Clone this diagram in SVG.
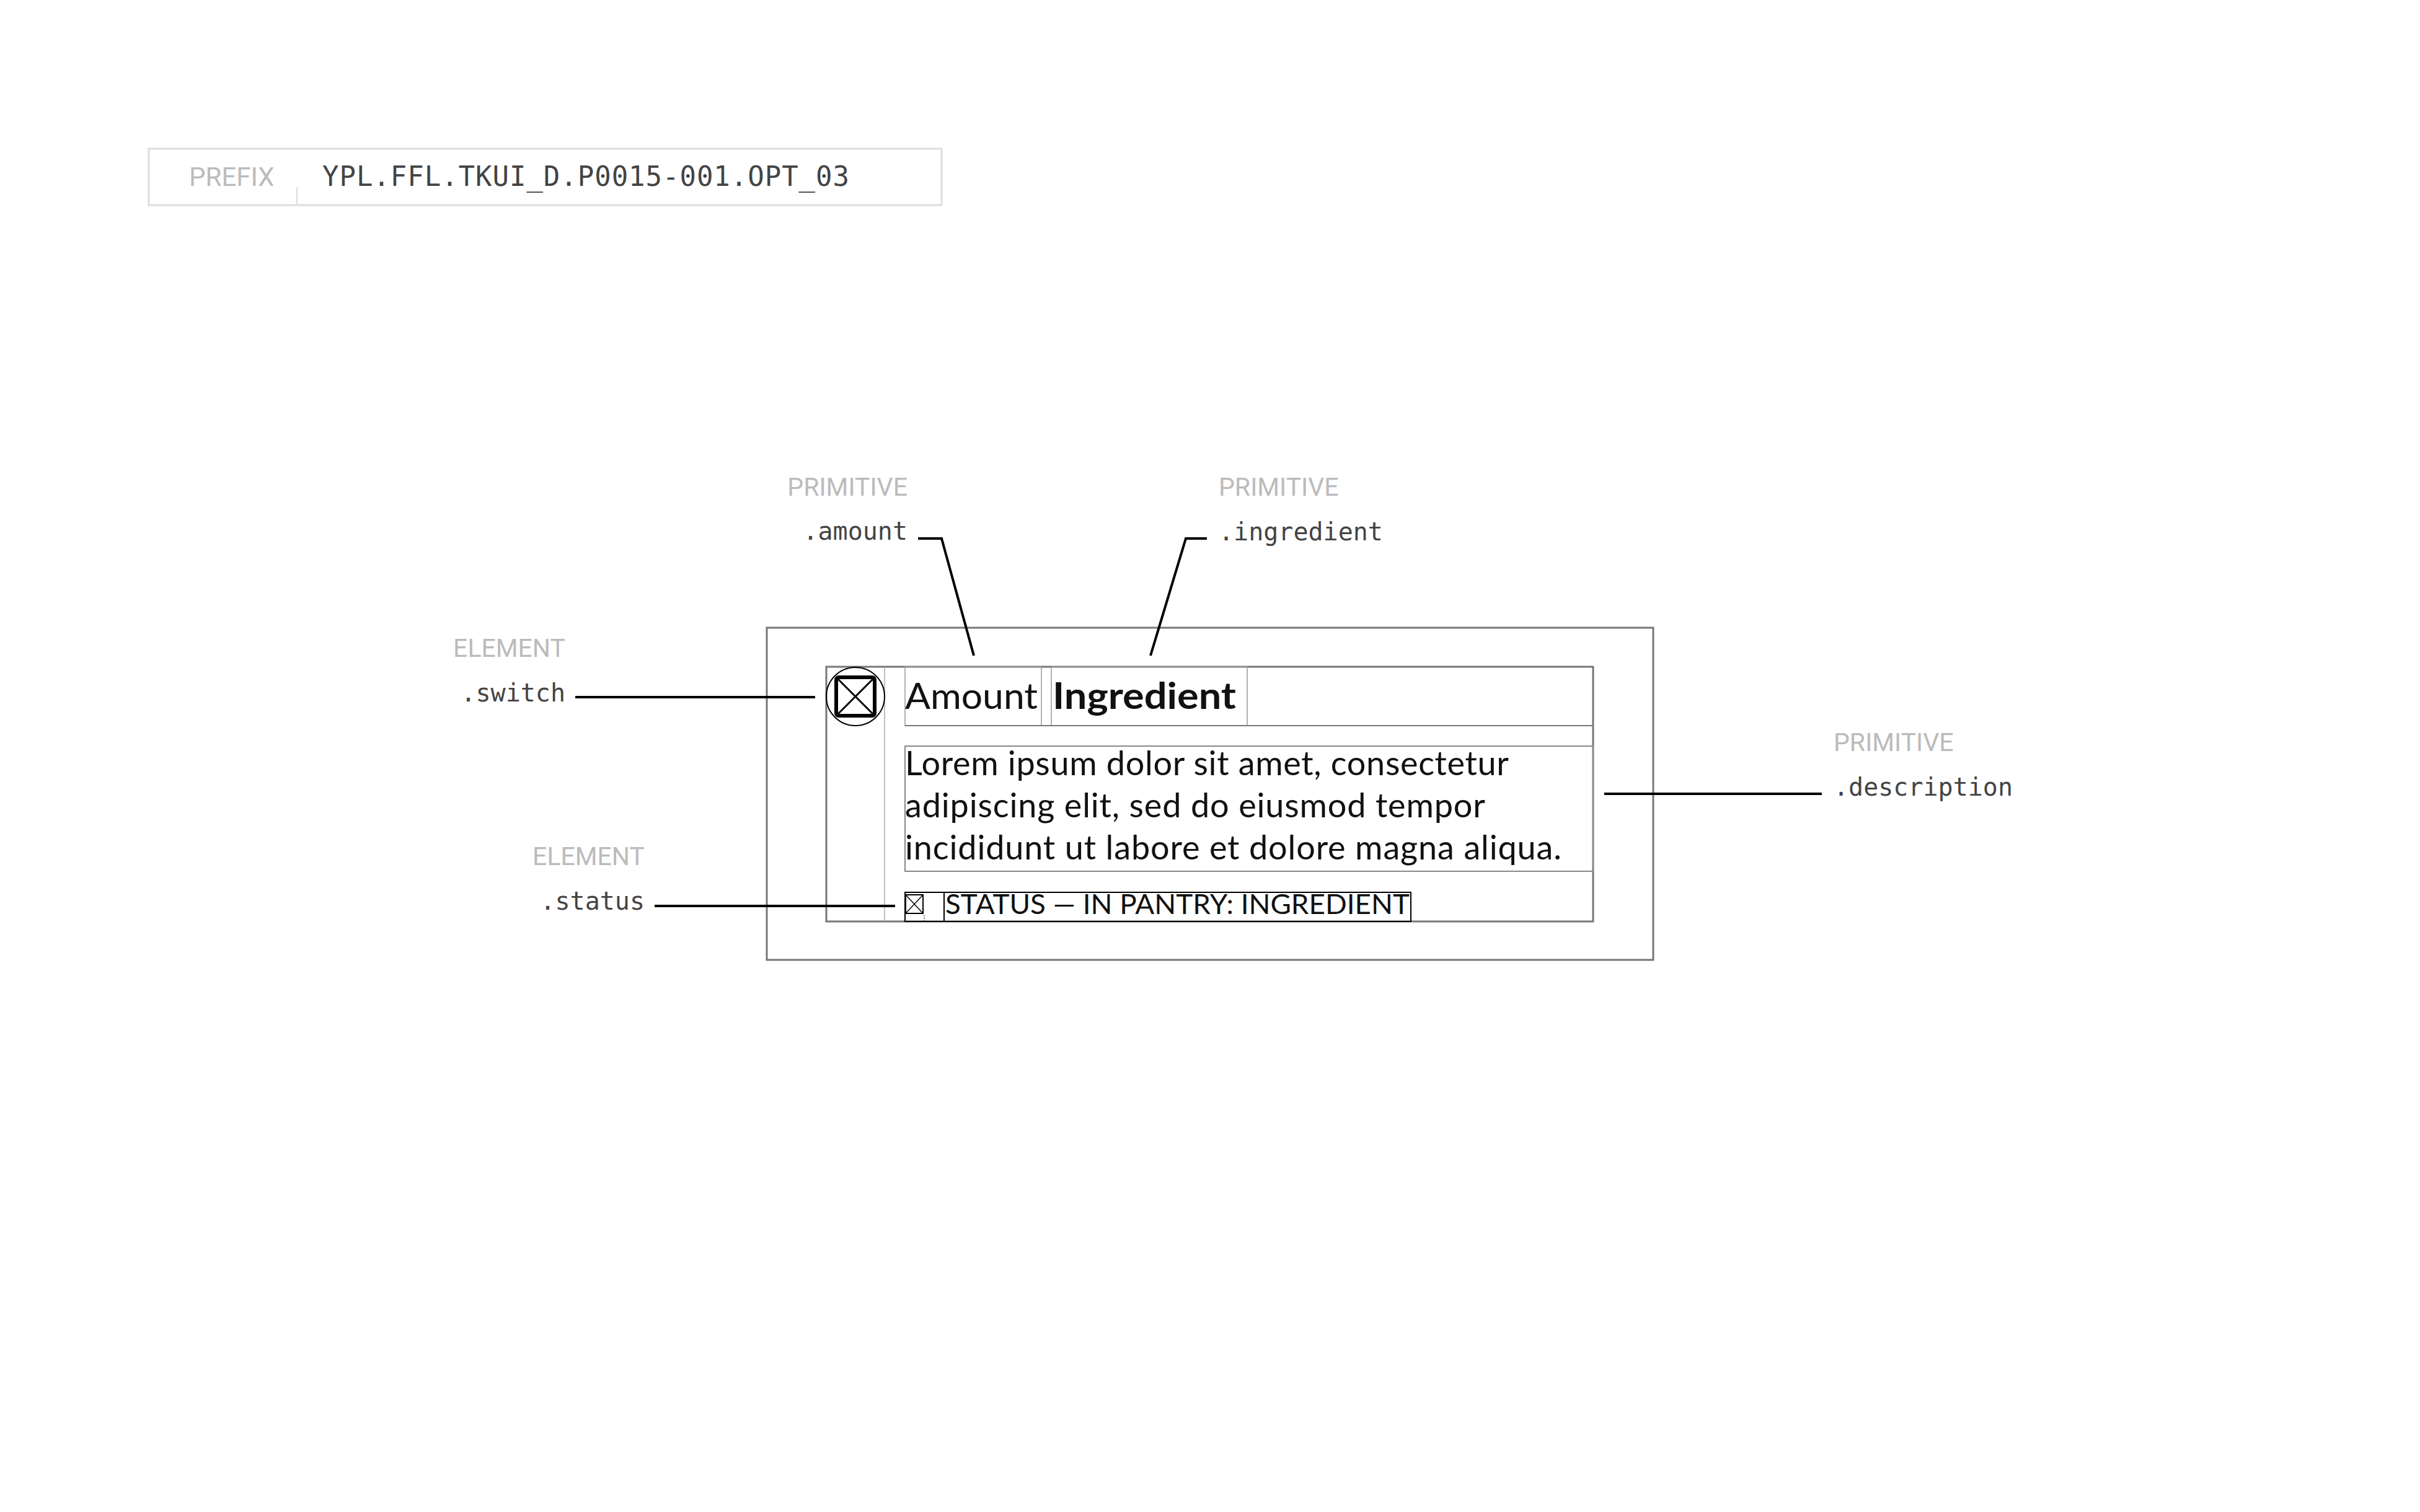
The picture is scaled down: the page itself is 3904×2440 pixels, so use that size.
<svg xmlns="http://www.w3.org/2000/svg" width="3904" height="2440" viewBox="0 0 3904 2440">
<style>
.kind{font-family:Roboto,"Liberation Sans",sans-serif;font-size:41px;fill:#bbbbbb}
.cls{font-family:"DejaVu Sans Mono","Liberation Mono",monospace;font-size:40px;fill:#444444}
.frame{fill:none;stroke:#777777;stroke-width:3}
.cell{fill:none;stroke:#999999;stroke-width:1.5}
.body{font-family:Lato,"Open Sans",sans-serif;fill:#111111}
.conn{fill:none;stroke:#000000;stroke-width:4}
</style>
<rect width="3904" height="2440" fill="#ffffff"/>
<g id="prefix">
<rect x="240" y="240" width="1279" height="91" fill="none" stroke="#dddddd" stroke-width="3"/>
<line x1="479" y1="302" x2="479" y2="331" stroke="#dddddd" stroke-width="2"/>
<text x="305" y="300" font-family="Roboto,'Liberation Sans',sans-serif" font-size="42" fill="#bbbbbb">PREFIX</text>
<text x="520" y="300" font-family="'DejaVu Sans Mono','Liberation Mono',monospace" font-size="44" fill="#444444" textLength="850">YPL.FFL.TKUI_D.P0015-001.OPT_03</text>
</g>
<g id="component">
<rect class="frame" x="1237" y="1013" width="1430" height="536"/>
<rect class="frame" x="1333" y="1076" width="1237" height="411" stroke-width="2.5"/>
<line x1="1427" y1="1076" x2="1427" y2="1487" stroke="#aaaaaa" stroke-width="1.5"/>
</g>
<g id="switch">
<circle cx="1380" cy="1124" r="47" fill="none" stroke="#000" stroke-width="2"/>
<rect x="1349" y="1093" width="62" height="62" rx="4" fill="none" stroke="#000" stroke-width="6"/>
<path d="M1351 1095 L1409 1153 M1409 1095 L1351 1153" stroke="#000" stroke-width="3" fill="none"/>
</g>
<g id="amount">
<rect class="cell" x="1460" y="1076" width="220" height="95"/>
<text class="body" x="1460" y="1144" font-size="59" fill="#222" textLength="214" lengthAdjust="spacingAndGlyphs">Amount</text>
</g>
<g id="ingredient">
<rect class="cell" x="1696" y="1076" width="316" height="95"/>
<text class="body" x="1698" y="1144" font-size="59" font-weight="bold" fill="#222" textLength="296" lengthAdjust="spacingAndGlyphs">Ingredient</text>
</g>
<line x1="1460" y1="1171" x2="2570" y2="1171" stroke="#777" stroke-width="2"/>
<g id="description">
<rect x="1460" y="1204" width="1110" height="202" fill="none" stroke="#888" stroke-width="2"/>
<text class="body" x="1460" y="1251" font-size="54" fill="#000" textLength="974">Lorem ipsum dolor sit amet, consectetur</text>
<text class="body" x="1460" y="1319" font-size="54" fill="#000" textLength="936">adipiscing elit, sed do eiusmod tempor</text>
<text class="body" x="1460" y="1387" font-size="54" fill="#000" textLength="1059">incididunt ut labore et dolore magna aliqua.</text>
</g>
<g id="status">
<rect x="1460" y="1440" width="63" height="47" fill="none" stroke="#000" stroke-width="2"/>
<rect x="1461" y="1444" width="28" height="30" fill="none" stroke="#000" stroke-width="2"/>
<path d="M1461 1444 L1489 1474 M1489 1444 L1461 1474" stroke="#000" stroke-width="1.5" fill="none"/>
<line x1="1491" y1="1477" x2="1491" y2="1487" stroke="#000" stroke-width="1" stroke-dasharray="2 2"/>
<rect x="1523" y="1440" width="753" height="47" fill="none" stroke="#000" stroke-width="2"/>
<text class="body" x="1525" y="1475" font-size="45" fill="#000" textLength="749" lengthAdjust="spacingAndGlyphs">STATUS — IN PANTRY: INGREDIENT</text>
</g>
<g id="label-amount">
<text class="kind" x="1464" y="800" text-anchor="end">PRIMITIVE</text>
<text class="cls" x="1464" y="871" text-anchor="end">.amount</text>
</g>
<g id="label-ingredient">
<text class="kind" x="1966" y="800">PRIMITIVE</text>
<text class="cls" x="1966" y="872">.ingredient</text>
</g>
<g id="label-switch">
<text class="kind" x="912" y="1060" text-anchor="end">ELEMENT</text>
<text class="cls" x="912" y="1132" text-anchor="end">.switch</text>
</g>
<g id="label-description">
<text class="kind" x="2958" y="1212">PRIMITIVE</text>
<text class="cls" x="2958" y="1284">.description</text>
</g>
<g id="label-status">
<text class="kind" x="1040" y="1396" text-anchor="end">ELEMENT</text>
<text class="cls" x="1040" y="1468" text-anchor="end">.status</text>
</g>
<g id="connectors">
<path class="conn" d="M928 1125 H1315"/>
<path class="conn" d="M1481 869 H1519 L1571 1058"/>
<path class="conn" d="M1947 869 H1913 L1856 1058"/>
<path class="conn" d="M2588 1281 H2939"/>
<path class="conn" d="M1056 1462 H1444"/>
</g>
</svg>
